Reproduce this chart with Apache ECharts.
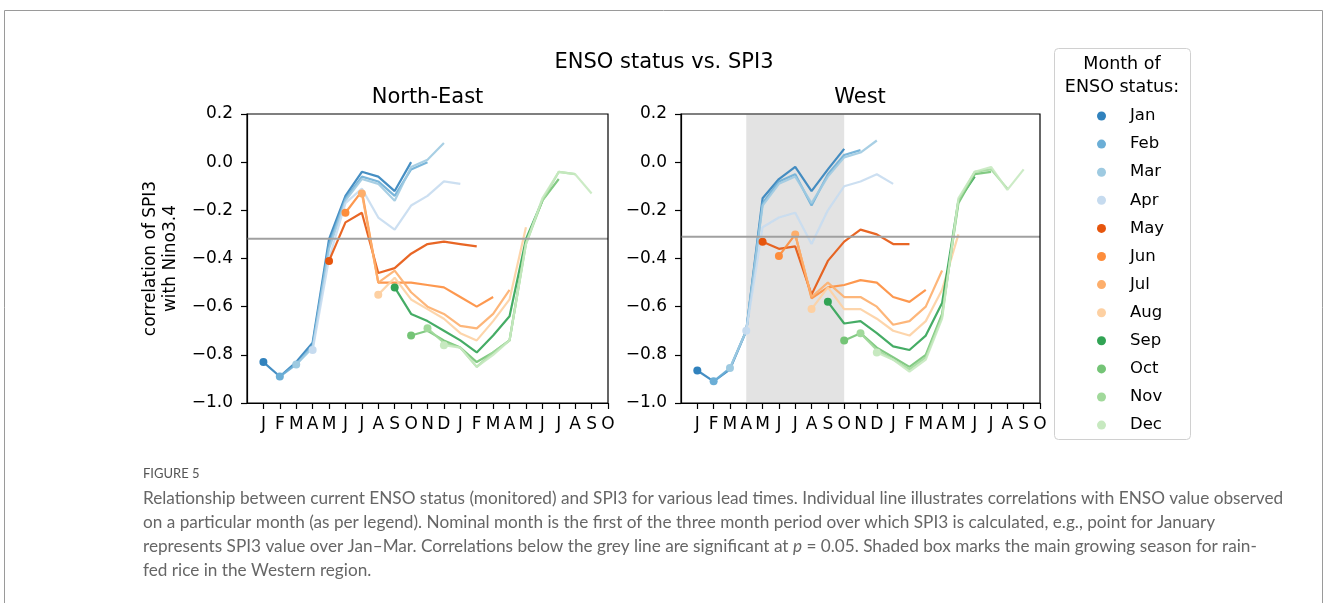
<!DOCTYPE html>
<html><head><meta charset="utf-8">
<script src="https://cdn.jsdelivr.net/npm/echarts@6/dist/echarts.min.js"></script>
<style>html,body{margin:0;padding:0;background:#fff}#c{width:1328px;height:603px}</style>
</head><body><div id="c"></div>
<script>
// ---- data ----
const tickLabels = ['J','F','M','A','M','J','J','A','S','O','N','D','J','F','M','A','M','J','J','A','S','O'];
const months = ['Jan','Feb','Mar','Apr','May','Jun','Jul','Aug','Sep','Oct','Nov','Dec'];
const yTicks = [-1.0,-0.8,-0.6,-0.4,-0.2,0.0,0.2];
const neSignif = -0.318;
const wSignif = -0.31;
const wShadeStart = 3, wShadeEnd = 9;

// North-East: each series starts at its ENSO month index
const neJan = [-0.83,-0.89,-0.83,-0.75,-0.32,-0.14,-0.04,-0.06,-0.12,0.00];
const neFeb = [-0.89,-0.84,-0.76,-0.34,-0.15,-0.06,-0.08,-0.14,-0.03,0.00];
const neMar = [-0.84,-0.77,-0.36,-0.16,-0.07,-0.09,-0.16,-0.02,0.01,0.08];
const neApr = [-0.78,-0.40,-0.17,-0.11,-0.23,-0.28,-0.18,-0.14,-0.08,-0.09];
const neMay = [-0.41,-0.25,-0.21,-0.46,-0.44,-0.38,-0.34,-0.33,-0.34,-0.35];
const neJun = [-0.21,-0.12,-0.50,-0.50,-0.50,-0.51,-0.52,-0.56,-0.60,-0.56];
const neJul = [-0.13,-0.50,-0.45,-0.54,-0.60,-0.63,-0.68,-0.69,-0.63,-0.53];
const neAug = [-0.55,-0.48,-0.57,-0.61,-0.65,-0.71,-0.74,-0.66,-0.57,-0.27];
const neSep = [-0.52,-0.63,-0.66,-0.70,-0.74,-0.79,-0.72,-0.64,-0.32,-0.16];
const neOct = [-0.72,-0.70,-0.74,-0.77,-0.83,-0.79,-0.74,-0.33,-0.16,-0.07];
const neNov = [-0.69,-0.75,-0.77,-0.85,-0.79,-0.74,-0.34,-0.16,-0.04,-0.05];
const neDec = [-0.76,-0.77,-0.85,-0.80,-0.74,-0.34,-0.15,-0.04,-0.05,-0.13];

// West
const wJan = [-0.865,-0.91,-0.86,-0.70,-0.15,-0.07,-0.02,-0.12,-0.03,0.055];
const wFeb = [-0.91,-0.855,-0.70,-0.17,-0.08,-0.05,-0.18,-0.05,0.03,0.05];
const wMar = [-0.855,-0.70,-0.18,-0.09,-0.06,-0.17,-0.06,0.02,0.04,0.09];
const wApr = [-0.70,-0.27,-0.23,-0.21,-0.34,-0.20,-0.10,-0.08,-0.05,-0.09];
const wMay = [-0.33,-0.36,-0.35,-0.55,-0.41,-0.33,-0.28,-0.30,-0.34,-0.34];
const wJun = [-0.39,-0.30,-0.565,-0.52,-0.51,-0.49,-0.50,-0.56,-0.58,-0.53];
const wJul = [-0.30,-0.56,-0.50,-0.56,-0.56,-0.60,-0.675,-0.66,-0.60,-0.45];
const wAug = [-0.61,-0.52,-0.61,-0.61,-0.65,-0.70,-0.72,-0.66,-0.53,-0.30];
const wSep = [-0.58,-0.67,-0.66,-0.71,-0.765,-0.78,-0.72,-0.585,-0.16,-0.06];
const wOct = [-0.74,-0.71,-0.77,-0.81,-0.85,-0.80,-0.63,-0.17,-0.05,-0.04];
const wNov = [-0.71,-0.78,-0.82,-0.86,-0.81,-0.64,-0.16,-0.04,-0.03,-0.11];
const wDec = [-0.79,-0.82,-0.87,-0.82,-0.65,-0.15,-0.04,-0.02,-0.115,-0.03];

const neSeries = [neJan,neFeb,neMar,neApr,neMay,neJun,neJul,neAug,neSep,neOct,neNov,neDec];
const wSeries = [wJan,wFeb,wMar,wApr,wMay,wJun,wJul,wAug,wSep,wOct,wNov,wDec];

// ---- styles ----
const palette = ['#3182bd','#6baed6','#9ecae1','#c6dbef','#e6550d','#fd8d3c','#fdae6b','#fdd0a2','#31a354','#74c476','#a1d99b','#c7e9c0'];
const FONT = 'DejaVu Sans';
const CAP = 'Lato';

const chart = echarts.init(document.getElementById('c'), null, {renderer:'canvas'});

function fmtY(v){ const a = Math.abs(v).toFixed(1); return (v < -1e-9 ? '\u2212' : '') + a; }
const tickIdx = tickLabels.map((_, i) => i);

function makeX(gi){
  return {
    type:'value', gridIndex:gi, min:-1, max:21, interval:1,
    axisLine:{show:true, onZero:false, lineStyle:{color:'#000', width:1.2}},
    axisTick:{show:true, length:6, lineStyle:{color:'#000', width:1.2}, customValues: tickIdx},
    axisLabel:{show:true, margin:13, color:'#000', fontFamily:FONT, fontSize:17, customValues: tickIdx,
      formatter: v => tickLabels[Math.round(v)] || ''},
    splitLine:{show:false}
  };
}
function makeY(gi){
  return {
    type:'value', gridIndex:gi, min:-1, max:0.2, interval:0.2,
    axisLine:{show:true, onZero:false, lineStyle:{color:'#000', width:1.2}},
    axisTick:{show:true, length:6, lineStyle:{color:'#000', width:1.2}},
    axisLabel:{show:true, margin:14, color:'#000', fontFamily:FONT, fontSize:17, formatter: fmtY},
    splitLine:{show:false}
  };
}

const series = [];
// shaded growing season (West)
series.push({
  type:'line', xAxisIndex:1, yAxisIndex:1, data:[], silent:true, z:1,
  markArea:{silent:true, itemStyle:{color:'#e3e3e3'}, data:[[{coord:[wShadeStart,-0.997]},{coord:[wShadeEnd,0.197]}]]}
});
function addPanel(list, gi){
  list.forEach((vals, m) => {
    series.push({
      name: months[m], type:'line', xAxisIndex:gi, yAxisIndex:gi,
      data: vals.map((v,k) => [m+k, v]),
      symbol:'circle', symbolSize:(val, p) => p.dataIndex === 0 ? 8 : 0,
      showAllSymbol:true,
      lineStyle:{color:palette[m], width:2.2, opacity:0.9},
      itemStyle:{color:palette[m], opacity:1},
      emphasis:{disabled:true}, animation:false, z:3
    });
  });
}
addPanel(neSeries, 0);
addPanel(wSeries, 1);
[[0, neSignif],[1, wSignif]].forEach(([gi, v]) => {
  series.push({type:'line', xAxisIndex:gi, yAxisIndex:gi, data:[[-1,v],[21,v]], symbol:'none', silent:true,
    lineStyle:{color:'#a0a0a0', width:2}, z:4, animation:false});
});

const captionLines = [
  'Relationship between current ENSO status (monitored) and SPI3 for various lead times. Individual line illustrates correlations with ENSO value observed',
  'on a particular month (as per legend). Nominal month is the first of the three month period over which SPI3 is calculated, e.g., point for January',
  'represents SPI3 value over Jan\u2013Mar. Correlations below the grey line are significant at {i|p} = 0.05. Shaded box marks the main growing season for rain-',
  'fed rice in the Western region.'
];

const graphic = [
  {type:'rect', shape:{x:4.5, y:10.5, width:1318, height:640}, style:{fill:'none', stroke:'#9a9a9a', lineWidth:1}, silent:true},
  {type:'text', x:664, y:63, style:{text:'ENSO status vs. SPI3', font:'21px "DejaVu Sans"', fill:'#000', align:'center', verticalAlign:'middle'}},
  {type:'text', x:427.5, y:98, style:{text:'North-East', font:'21px "DejaVu Sans"', fill:'#000', align:'center', verticalAlign:'middle'}},
  {type:'text', x:860, y:98, style:{text:'West', font:'21px "DejaVu Sans"', fill:'#000', align:'center', verticalAlign:'middle'}},
  {type:'text', x:161, y:258.5, rotation:Math.PI/2, style:{text:'correlation of SPI3\nwith Nino3.4', font:'17px "DejaVu Sans"', lineHeight:20, fill:'#000', align:'center', verticalAlign:'middle'}},
  {type:'rect', shape:{x:1054.5, y:48.5, width:136, height:391, r:4}, style:{fill:'#fff', stroke:'#d0d0d0', lineWidth:1}, z:-1, silent:true},
  {type:'text', x:1122, y:76, style:{text:'Month of\nENSO status:', font:'17.5px "DejaVu Sans"', lineHeight:23, fill:'#000', align:'center', verticalAlign:'middle'}},
  {type:'text', x:143, y:474, style:{text:'FIGURE 5', font:'13px "Lato"', fill:'#555', align:'left', verticalAlign:'middle'}}
];
captionLines.forEach((t, i) => {
  graphic.push({type:'text', x:143, y:498 + i*24, style:{text:t, font:'17.2px "Lato"', fill:'#666', align:'left', verticalAlign:'middle',
    rich:{i:{fontStyle:'italic', fontFamily:CAP, fontSize:17.2, fill:'#666'}}}});
});

chart.setOption({
  animation:false,
  backgroundColor:'#fff',
  grid:[
    {left:247, top:114, width:361, height:289, show:true, borderColor:'#000', borderWidth:1.2, backgroundColor:'transparent', z:5},
    {left:681, top:114, width:359, height:289, show:true, borderColor:'#000', borderWidth:1.2, backgroundColor:'transparent', z:5}
  ],
  xAxis:[makeX(0), makeX(1)],
  yAxis:[makeY(0), makeY(1)],
  legend:{
    data: months, orient:'vertical', left:1092, top:101, icon:'circle', itemWidth:9, itemHeight:9, itemGap:8.1,
    textStyle:{fontFamily:FONT, fontSize:16.5, color:'#000', lineHeight:20, padding:[0,0,0,19]},
    selectedMode:false, z:10
  },
  graphic: graphic,
  series: series
});
</script></body></html>
